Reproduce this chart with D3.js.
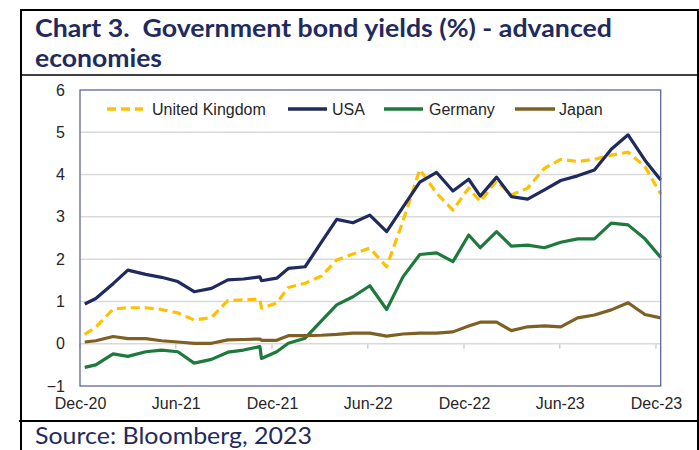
<!DOCTYPE html>
<html>
<head>
<meta charset="utf-8">
<script src="https://cdn.jsdelivr.net/npm/d3@7"></script>
<style>
  html, body { margin: 0; padding: 0; background: #fff; }
  svg { display: block; }
  .title { white-space: pre; }
</style>
</head>
<body>
<svg id="chart" width="699" height="450"></svg>
<script>
// Observation dates (roughly monthly, mid-month and month-end mix)
const dates = [
  "2020-12-10","2020-12-31","2021-02-02","2021-03-02","2021-04-05","2021-05-05",
  "2021-06-05","2021-07-06","2021-08-08","2021-09-08","2021-10-08","2021-11-08",
  "2021-11-11","2021-12-10","2022-01-01","2022-02-02","2022-03-05","2022-04-03",
  "2022-05-04","2022-06-05","2022-07-07","2022-08-07","2022-09-08","2022-10-10",
  "2022-11-10","2022-12-10","2023-01-01","2023-02-01","2023-03-01","2023-04-01",
  "2023-05-03","2023-06-03","2023-07-05","2023-08-06","2023-09-07","2023-10-09",
  "2023-11-10","2023-12-10"
];

// 10-year government bond yields, %
const ukYields = [
  0.22, 0.39, 0.82, 0.85, 0.85, 0.81, 0.73, 0.56, 0.62, 1.02, 1.04, 1.05,
  0.84, 0.96, 1.33, 1.43, 1.60, 1.98, 2.12, 2.26, 1.82, 2.90, 4.12, 3.56,
  3.16, 3.68, 3.36, 3.85, 3.52, 3.68, 4.15, 4.36, 4.31, 4.36, 4.46, 4.53,
  4.19, 3.54
];
const usaYields = [
  0.94, 1.07, 1.42, 1.74, 1.64, 1.57, 1.47, 1.23, 1.31, 1.51, 1.53, 1.58,
  1.49, 1.55, 1.78, 1.82, 2.40, 2.94, 2.86, 3.04, 2.65, 3.23, 3.82, 4.05,
  3.61, 3.89, 3.49, 3.94, 3.48, 3.42, 3.64, 3.86, 3.97, 4.11, 4.60, 4.94,
  4.34, 3.87
];
const germanyYields = [
  -0.56, -0.50, -0.24, -0.30, -0.19, -0.15, -0.19, -0.46, -0.37, -0.20, -0.15, -0.07,
  -0.35, -0.19, 0.01, 0.13, 0.54, 0.92, 1.11, 1.37, 0.81, 1.58, 2.11, 2.15,
  1.94, 2.57, 2.27, 2.65, 2.31, 2.33, 2.27, 2.40, 2.48, 2.48, 2.85, 2.81,
  2.48, 2.04
];
const japanYields = [
  0.04, 0.07, 0.17, 0.12, 0.12, 0.07, 0.04, 0.01, 0.01, 0.09, 0.10, 0.11,
  0.08, 0.08, 0.19, 0.19, 0.20, 0.22, 0.25, 0.25, 0.18, 0.23, 0.25, 0.25,
  0.28, 0.42, 0.51, 0.51, 0.31, 0.40, 0.42, 0.40, 0.61, 0.68, 0.80, 0.97,
  0.69, 0.61
];

const seriesNames = ["United Kingdom", "USA", "Germany", "Japan"];
const yTicks = [-1, 0, 1, 2, 3, 4, 5, 6];
const xTickDates = ["2020-12-01","2021-06-01","2021-12-01","2022-06-01","2022-12-01","2023-06-01","2023-12-01"];

const titleLines = ["Chart 3.  Government bond yields (%) - advanced", "economies"];
const sourceText = "Source: Bloomberg, 2023";

// ---- drawing ----
const parse = d3.utcParse("%Y-%m-%d");
const svg = d3.select("#chart");

const plot = { left: 80, top: 90, right: 660.7, bottom: 386 };

const x = d3.scaleUtc()
  .domain([parse("2020-12-01"), parse("2023-12-10")])
  .range([plot.left, plot.right]);
const y = d3.scaleLinear().domain([-1, 6]).range([plot.bottom, plot.top]);

const styles = [
  { color: "#FFC000", dash: "9,5" },
  { color: "#1F2A5E", dash: null },
  { color: "#1E7A3C", dash: null },
  { color: "#7F6024", dash: null }
];
const allSeries = [ukYields, usaYields, germanyYields, japanYields].map((vals, i) => ({
  name: seriesNames[i],
  style: styles[i],
  points: vals.map((v, j) => ({ date: parse(dates[j]), value: v }))
}));

// outer frame
const frame = svg.append("g").attr("stroke", "#000").attr("fill", "none");
frame.append("line").attr("x1", 21).attr("x2", 21).attr("y1", 9).attr("y2", 450).attr("stroke-width", 2);
frame.append("line").attr("x1", 698).attr("x2", 698).attr("y1", 9).attr("y2", 450).attr("stroke-width", 2);
frame.append("line").attr("x1", 20).attr("x2", 699).attr("y1", 10).attr("y2", 10).attr("stroke-width", 2);
frame.append("line").attr("x1", 20).attr("x2", 699).attr("y1", 75).attr("y2", 75).attr("stroke-width", 1.5);
frame.append("line").attr("x1", 19).attr("x2", 699).attr("y1", 421).attr("y2", 421).attr("stroke-width", 2);

// title
svg.append("g").selectAll("text").data(titleLines).join("text")
  .attr("class", "title")
  .attr("xml:space", "preserve")
  .attr("x", 35)
  .attr("y", (d, i) => i === 0 ? 37 : 67)
  .attr("textLength", (d, i) => i === 0 ? 577 : 127)
  .attr("lengthAdjust", "spacingAndGlyphs")
  .attr("font-family", "Lato, 'Open Sans', sans-serif")
  .attr("font-weight", 700)
  .attr("font-size", 25)
  .attr("fill", "#1F2A5E")
  .text(d => d);

// source line
svg.append("text")
  .attr("x", 35).attr("y", 444)
  .attr("textLength", 277).attr("lengthAdjust", "spacingAndGlyphs")
  .attr("font-family", "Lato, 'Open Sans', sans-serif")
  .attr("font-size", 24)
  .attr("fill", "#1F2A5E")
  .text(sourceText);

// gridlines
svg.append("g").selectAll("line").data(yTicks.filter(t => t > -1 && t < 6)).join("line")
  .attr("x1", plot.left).attr("x2", plot.right)
  .attr("y1", d => y(d)).attr("y2", d => y(d))
  .attr("stroke", "#D9D9D9").attr("stroke-width", 1.5);

// x ticks hang from the zero line
const xTickVals = xTickDates.map(parse);
svg.append("g").selectAll("line").data(xTickVals).join("line")
  .attr("x1", d => x(d)).attr("x2", d => x(d))
  .attr("y1", y(0)).attr("y2", y(0) + 5)
  .attr("stroke", "#D0D0D0").attr("stroke-width", 1.5);

// y axis labels
const yAxis = d3.axisLeft(y).tickValues(yTicks).tickSize(0).tickPadding(15).tickFormat(d3.format("d"));
const yg = svg.append("g").attr("transform", `translate(${plot.left},0)`).call(yAxis);
yg.select(".domain").remove();
yg.selectAll("text")
  .attr("font-family", "'Liberation Sans', Arial, sans-serif")
  .attr("font-size", 16).attr("fill", "#262626");

// x axis labels
const xAxis = d3.axisBottom(x).tickValues(xTickVals).tickSize(0).tickPadding(0)
  .tickFormat(d3.utcFormat("%b-%y"));
const xg = svg.append("g").attr("transform", `translate(0,${plot.bottom + 12})`).call(xAxis);
xg.select(".domain").remove();
xg.selectAll("text")
  .attr("font-family", "'Liberation Sans', Arial, sans-serif")
  .attr("font-size", 16).attr("fill", "#262626");

// series lines
const line = d3.line().x(d => x(d.date)).y(d => y(d.value));
svg.append("g").selectAll("path").data(allSeries).join("path")
  .attr("d", d => line(d.points))
  .attr("fill", "none")
  .attr("stroke", d => d.style.color)
  .attr("stroke-width", 3.2)
  .attr("stroke-linejoin", "round")
  .attr("stroke-dasharray", d => d.style.dash);

// plot border
svg.append("rect")
  .attr("x", plot.left).attr("y", plot.top)
  .attr("width", plot.right - plot.left).attr("height", plot.bottom - plot.top)
  .attr("fill", "none").attr("stroke", "#5E6797").attr("stroke-width", 1.3);

// legend
const legendX = [107, 288, 384, 515];
const legendSwatch = [36, 39, 39, 40];
const legendGap = [9, 5, 6, 4];
const legend = svg.append("g").selectAll("g").data(allSeries).join("g")
  .attr("transform", (d, i) => `translate(${legendX[i]},109)`);
legend.append("line")
  .attr("x1", 0).attr("x2", (d, i) => legendSwatch[i])
  .attr("y1", 0).attr("y2", 0)
  .attr("stroke", d => d.style.color)
  .attr("stroke-width", 3.5)
  .attr("stroke-dasharray", d => d.style.dash);
legend.append("text")
  .attr("x", (d, i) => legendSwatch[i] + legendGap[i])
  .attr("y", 5.5)
  .attr("font-family", "'Liberation Sans', Arial, sans-serif")
  .attr("font-size", 16).attr("fill", "#262626")
  .text(d => d.name);
</script>
</body>
</html>
